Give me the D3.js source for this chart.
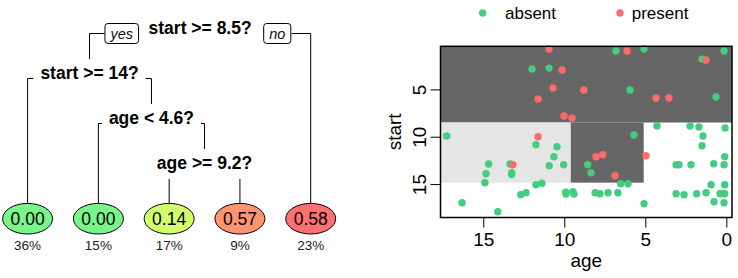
<!DOCTYPE html>
<html>
<head>
<meta charset="utf-8">
<script src="https://cdn.jsdelivr.net/npm/d3@7"></script>
<style>
  body { margin: 0; background: #fff; }
  svg { display: block; font-family: 'Liberation Sans', Arial, sans-serif; }
</style>
</head>
<body>
<div id="viz"></div>
<script>
// ---- data ----
const splitLabels = ['start >= 8.5?', 'start >= 14?', 'age < 4.6?', 'age >= 9.2?']
const leafValues = ['0.00', '0.00', '0.14', '0.57', '0.58']
const leafPercents = ['36%', '15%', '17%', '9%', '23%']
const branchLabels = ['yes', 'no']

const legendLabels = ['absent', 'present']
const xTicks = [15, 10, 5, 0]
const yTicks = [5, 10, 15]

// partition boundaries shown as shaded rectangles (age in years)
const startSplits = [8.5, 14.85]
const ageSplits = [9.6, 5.1]

const absentAge = [11.99, 10.94, 17.26, 6.81, 5.08, 1.50, 0.14, 5.94, 0.64, 4.28, 2.24, 1.69, 0.08, 5.70, 1.44,
  11.75, 10.45, 10.64, 14.67, 13.35, 10.93, 10.04, 8.56, 14.83, 13.25, 13.25, 14.90, 11.75, 11.38, 12.69, 12.36,
  9.91, 9.89, 9.48, 9.40, 16.31, 14.11, 1.50, 0.10, 3.10, 2.92, 2.18, 0.78, 0.14, 8.35, 6.52, 6.07, 0.94, 0.10,
  8.10, 7.80, 7.30, 6.69, 3.10, 2.61, 1.83, 1.25, 0.39, 0.10, 5.08, 0.76, 0.14, 0.26]
const absentStart = [2.85, 2.75, 9.93, 0.95, 0.74, 1.80, 0.95, 5.07, 5.81, 8.87, 8.87, 8.98, 9.08, 9.82, 9.93,
  10.84, 11.06, 12.11, 12.88, 12.88, 13.06, 12.96, 12.96, 13.91, 13.80, 13.99, 14.86, 15.07, 14.92, 16.12, 15.91,
  15.87, 16.05, 15.81, 16.05, 16.97, 17.92, 10.95, 12.11, 12.96, 12.96, 12.96, 12.85, 12.96, 13.80, 14.96, 14.96,
  15.07, 15.07, 15.91, 16.02, 15.91, 15.91, 16.02, 16.12, 16.02, 15.91, 16.02, 16.02, 17.07, 16.86, 16.97, 16.0]

const presentAge = [10.94, 10.14, 10.70, 8.80, 11.62, 10.02, 9.52, 11.62, 6.13, 1.25, 4.34, 3.54, 13.17, 8.04,
  7.63, 4.96, 6.87]
const presentStart = [0.74, 2.96, 4.86, 5.07, 6.02, 7.81, 8.03, 10.0, 0.95, 1.90, 5.91, 5.91, 12.96, 12.11,
  11.90, 12.01, 14.12]

// ---- styles ----
const pointColors = ['#43CD80', '#FF6A6A']
const leafColors = ['#7AF58A', '#7AF58A', '#D2FF6E', '#FF9570', '#FF7070']
const shadeDark = '#666666'
const shadeLight = '#E5E5E5'

const svg = d3.select('#viz')
  .append('svg')
  .attr('width', 738)
  .attr('height', 278)

/**
 * Draws the rpart-style decision tree on the left.
 *
 * @param {*} g The d3 Selection in which to draw
 */
function drawTree (g) {
  const spec = {
    split: 0,
    children: [
      { split: 1, children: [{ leaf: 0 }, { split: 2, children: [{ leaf: 1 }, { split: 3, children: [{ leaf: 2 }, { leaf: 3 }] }] }] },
      { leaf: 4 }
    ]
  }
  const root = d3.hierarchy(spec)
  const leafX = d3.scaleLinear().domain([0, 4]).range([27.6, 310.7])
  const levelY = d3.scaleLinear().domain([0, 3]).range([34, 169])
  const leafY = 218.7
  const leafTop = 203.3

  root.eachAfter(n => {
    if (n.children) n.x = d3.mean(n.children, c => c.x)
    else n.x = leafX(n.data.leaf)
    n.y = n.children ? levelY(n.depth) : leafY
  })

  const internals = root.descendants().filter(n => n.children)

  // split labels, measured so branches can stop at their edges
  const labels = g.selectAll('.split')
    .data(internals)
    .join('text')
    .attr('class', 'split')
    .attr('x', d => d.x)
    .attr('y', d => d.y)
    .attr('text-anchor', 'middle')
    .attr('font-size', 17.5)
    .attr('font-weight', 'bold')
    .text(d => splitLabels[d.data.split])
  labels.each(function (d) { d.w = this.getComputedTextLength() })

  const topOf = c => c.children ? c.y - 20 : leafTop
  const lines = g.append('g')
    .attr('fill', 'none')
    .attr('stroke', 'black')
    .attr('stroke-width', 1)

  internals.forEach(n => {
    const by = n.y - 0.5
    n.children.forEach((c, i) => {
      let edge = i === 0 ? n.x - n.w / 2 - 7 : n.x + n.w / 2 + 7
      if (n.depth === 0) {
        // room for the yes / no boxes
        edge = i === 0 ? n.x - n.w / 2 - 44 : n.x + n.w / 2 + 40
      }
      const outside = i === 0 ? c.x < edge : c.x > edge
      const path = outside
        ? `M${edge},${by}H${c.x}V${topOf(c)}`
        : `M${c.x},${n.y + 10}V${topOf(c)}`
      lines.append('path').attr('d', path)
    })
  })

  // yes / no boxes beside the root label
  const r = root
  const boxes = g.selectAll('.branchbox')
    .data(branchLabels)
    .join('g')
    .attr('class', 'branchbox')
  const boxText = boxes.append('text')
    .attr('font-size', 14.5)
    .attr('font-style', 'italic')
    .attr('text-anchor', 'middle')
    .attr('fill', '#111')
    .text(d => d)
  boxText.each(function (d, i) {
    const w = this.getComputedTextLength() + 11
    const cx = i === 0 ? r.x - r.w / 2 - 10 - w / 2 : r.x + r.w / 2 + 12 + w / 2
    const parent = d3.select(this.parentNode)
    parent.insert('rect', 'text')
      .attr('x', cx - w / 2)
      .attr('y', r.y - 10.5)
      .attr('width', w)
      .attr('height', 20)
      .attr('rx', 3)
      .attr('fill', 'white')
      .attr('stroke', 'black')
    d3.select(this).attr('x', cx).attr('y', r.y + 5)
  })

  // leaves
  const leaves = g.selectAll('.leaf')
    .data(root.leaves())
    .join('g')
    .attr('class', 'leaf')
    .attr('transform', d => `translate(${d.x}, ${d.y})`)

  leaves.append('ellipse')
    .attr('rx', 25)
    .attr('ry', 15.3)
    .attr('fill', d => leafColors[d.data.leaf])
    .attr('stroke', 'black')
    .attr('stroke-width', 1)

  leaves.append('text')
    .attr('y', 5.8)
    .attr('text-anchor', 'middle')
    .attr('font-size', 17.5)
    .text(d => leafValues[d.data.leaf])

  leaves.append('text')
    .attr('y', 31.5)
    .attr('text-anchor', 'middle')
    .attr('font-size', 13.5)
    .attr('fill', '#222')
    .text(d => leafPercents[d.data.leaf])
}

/**
 * Draws the partition scatter plot on the right.
 *
 * @param {*} g The d3 Selection in which to draw
 */
function drawScatter (g) {
  const x = d3.scaleLinear().domain([17.64, -0.35]).range([440.5, 732])
  const y = d3.scaleLinear().domain([0.45, 18.53]).range([46.3, 217.5])
  const [a0, a1] = x.domain()
  const [s0, s1] = y.domain()

  // shaded partition
  const shades = [
    { ages: [a0, a1], starts: [s0, startSplits[0]], fill: shadeDark },
    { ages: [a0, ageSplits[0]], starts: [startSplits[0], startSplits[1]], fill: shadeLight },
    { ages: [ageSplits[0], ageSplits[1]], starts: [startSplits[0], startSplits[1]], fill: shadeDark }
  ]
  g.selectAll('.shade')
    .data(shades)
    .join('rect')
    .attr('class', 'shade')
    .attr('x', d => x(d.ages[0]))
    .attr('y', d => y(d.starts[0]))
    .attr('width', d => x(d.ages[1]) - x(d.ages[0]))
    .attr('height', d => y(d.starts[1]) - y(d.starts[0]))
    .attr('fill', d => d.fill)

  const pts = absentAge.map((a, i) => ({ age: a, start: absentStart[i], cls: 0 }))
    .concat(presentAge.map((a, i) => ({ age: a, start: presentStart[i], cls: 1 })))

  g.selectAll('.pt')
    .data(pts)
    .join('circle')
    .attr('class', 'pt')
    .attr('cx', d => x(d.age))
    .attr('cy', d => y(d.start))
    .attr('r', 3.7)
    .attr('fill', d => pointColors[d.cls])

  // frame
  g.append('rect')
    .attr('x', 440.5)
    .attr('y', 46.3)
    .attr('width', 732 - 440.5)
    .attr('height', 217.5 - 46.3)
    .attr('fill', 'none')
    .attr('stroke', 'black')
    .attr('stroke-width', 1.5)

  const xAxis = g.append('g')
    .attr('transform', 'translate(0, 217.5)')
    .call(d3.axisBottom(x).tickValues(xTicks).tickSize(10).tickPadding(5).tickFormat(d3.format('d')))
  xAxis.select('.domain').remove()
  xAxis.selectAll('.tick line').attr('stroke', 'black')
  xAxis.selectAll('.tick text')
    .attr('font-size', 19)
    .attr('font-family', "'Liberation Sans', Arial, sans-serif")
    .attr('fill', 'black')

  const yAxis = g.append('g')
    .attr('transform', 'translate(440.5, 0)')
    .call(d3.axisLeft(y).tickValues(yTicks).tickSize(10).tickFormat(d3.format('d')))
  yAxis.select('.domain').remove()
  yAxis.selectAll('.tick line').attr('stroke', 'black')
  yAxis.selectAll('.tick text')
    .attr('x', 0)
    .attr('y', -15)
    .attr('dy', null)
    .attr('transform', 'rotate(-90)')
    .attr('text-anchor', 'middle')
    .attr('font-size', 19)
    .attr('font-family', "'Liberation Sans', Arial, sans-serif")
    .attr('fill', 'black')

  g.append('text')
    .attr('x', (440.5 + 732) / 2)
    .attr('y', 267)
    .attr('text-anchor', 'middle')
    .attr('font-size', 19)
    .text('age')

  g.append('text')
    .attr('transform', `translate(401, ${(46.3 + 217.5) / 2}) rotate(-90)`)
    .attr('text-anchor', 'middle')
    .attr('font-size', 19)
    .text('start')

  // legend
  const legend = g.selectAll('.legend')
    .data(legendLabels)
    .join('g')
    .attr('class', 'legend')
    .attr('transform', (d, i) => `translate(${i === 0 ? 482.7 : 620}, 13)`)
  legend.append('circle')
    .attr('r', 3.7)
    .attr('fill', (d, i) => pointColors[i])
  legend.append('text')
    .attr('x', (d, i) => i === 0 ? 22.3 : 11.7)
    .attr('y', 6)
    .attr('font-size', 17)
    .text(d => d)
}

drawTree(svg.append('g'))
drawScatter(svg.append('g'))
</script>
</body>
</html>
